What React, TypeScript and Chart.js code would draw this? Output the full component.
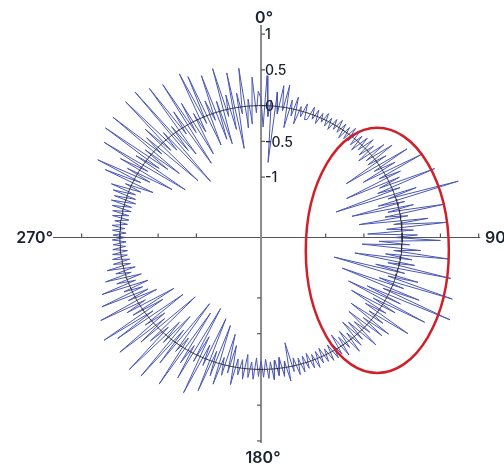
import { useEffect, useRef } from "react";
import { Chart, registerables } from "chart.js";

Chart.register(...registerables);

// ---- data ----
const angleStepDeg = 1; // one sample per degree, clockwise from 0° at top
const radialValues: number[] = [
  0.1, -0.3, 0.42, -0.15, 0.08, -0.79, 0.2, -0.1, 0.3, -0.05,
  0.32, -0.28, 0.12, -0.1, 0.18, -0.2, 0.06, -0.08, 0.12, -0.1,
  -0.09, 0.11, -0.06, 0.09, -0.1, 0.07, -0.05, 0.1, -0.08, 0.06,
  -0.1, 0.08, -0.06, 0.11, -0.07, 0.09, -0.12, 0.08, -0.09, 0.12,
  -0.08, 0.13, -0.1, 0.09, -0.14, 0.12, -0.08, 0.16, -0.12, 0.1,
  -0.18, 0.22, -0.1, 0.3, -0.12, 0.15, -0.5, 0.43, -0.1, 0.2,
  -0.3, 0.55, -0.1, 0.2, -0.6, 0.15, -0.15, 0.62, -0.2, 0.1,
  -0.8, 0.3, -0.1, 0.85, -0.25, 0.1, -0.62, 0.2, -0.15, 0.6,
  -0.2, 0.1, -0.55, 0.35, -0.1, 0.58, -0.2, 0.15, -0.45, 0.2,
  -0.1, 0.5, -0.3, 0.1, -0.52, 0.25, -0.1, 0.62, -0.2, 0.15,
  -0.6, 0.2, -0.15, 0.7, -0.3, 0.1, -0.85, 0.3, -0.1, 0.8,
  -0.2, 0.15, -0.7, 0.4, -0.1, 0.88, -0.3, 0.2, -0.55, 0.6,
  -0.15, 0.2, -0.45, 0.1, -0.2, 0.5, -0.1, 0.15, -0.35, 0.3,
  -0.1, 0.25, -0.3, 0.1, -0.15, 0.28, -0.2, 0.1, -0.25, 0.15,
  -0.1, 0.2, -0.18, 0.08, -0.12, 0.16, -0.2, 0.1, -0.08, 0.12,
  -0.11, 0.12, -0.08, 0.1, -0.12, 0.09, -0.1, 0.13, -0.08, 0.11,
  -0.12, 0.09, -0.1, 0.12, -0.09, 0.14, -0.11, 0.08, -0.34, 0.2,
  -0.09, 0.12, -0.15, 0.1, -0.12, 0.15, -0.1, 0.13, -0.14, 0.11,
  -0.12, 0.1, -0.16, 0.14, -0.1, 0.12, -0.2, 0.15, -0.12, 0.1,
  -0.12, 0.25, -0.3, 0.1, -0.45, 0.15, -0.1, 0.3, -0.55, 0.2,
  -0.15, 0.45, -0.62, 0.1, -0.2, 0.55, -0.3, 0.1, -0.72, 0.4,
  -0.1, 0.2, -0.6, 0.6, -0.15, 0.1, -0.7, 0.35, -0.2, 0.65,
  -0.4, 0.1, -0.25, 0.68, -0.1, 0.2, -0.65, 0.3, -0.15, 0.6,
  -0.2, 0.1, -0.55, 0.5, -0.1, 0.66, -0.3, 0.15, -0.5, 0.2,
  -0.1, 0.55, -0.3, 0.1, -0.2, 0.45, -0.15, 0.1, -0.25, 0.38,
  -0.1, 0.15, -0.2, 0.28, -0.08, 0.12, -0.15, 0.22, -0.1, 0.12,
  -0.1, 0.12, -0.08, 0.11, -0.09, 0.1, -0.07, 0.09, -0.08, 0.1,
  -0.07, 0.09, -0.08, 0.1, -0.06, 0.11, -0.09, 0.08, -0.1, 0.12,
  -0.09, 0.13, -0.11, 0.15, -0.1, 0.18, -0.14, 0.16, -0.12, 0.2,
  -0.1, 0.25, -0.15, 0.08, -0.3, 0.4, -0.1, 0.55, -0.2, 0.15,
  -0.5, 0.3, -0.1, 0.6, -0.65, 0.15, -0.2, 0.7, -0.3, 0.1,
  -0.45, 0.72, -0.1, 0.2, -0.7, 0.3, -0.15, 0.75, -0.2, 0.1,
  -0.82, 0.77, -0.3, 0.1, -0.4, 0.7, -0.1, 0.25, -0.62, 0.65,
  -0.15, 0.3, -0.52, 0.1, -0.2, 0.68, -0.1, 0.6, -0.45, 0.2,
  -0.1, 0.55, -0.4, 0.15, -0.48, 0.6, -0.1, 0.2, -0.3, 0.5,
  -0.58, 0.2, -0.1, 0.54, -0.3, 0.1, -0.25, 0.4, -0.1, 0.2,
];
const baselineValue = 0;
const radialOrigin = -1.845; // radial value at the pole
const radialTicks = [-1, -0.5, 0, 0.5, 1];
const radialTickLabels = ["-1", "-0.5", "0", "0.5", "1"];
const angleLabels = ["0°", "90°", "180°", "270°"];

// ellipse highlight (in radial-distance units)
const highlight = { cx: 1.52, cy: -0.18, rx: 0.935, ry: 1.715 };

const textColor = "#1b2230";

function toXY(deg: number, r: number) {
  const d = r - radialOrigin;
  const a = (deg * Math.PI) / 180;
  return { x: d * Math.sin(a), y: d * Math.cos(a) };
}

export default function App() {
  const ref = useRef<HTMLCanvasElement>(null);

  useEffect(() => {
    if (!ref.current) return;
    const signal = radialValues.map((r, i) => toXY(i * angleStepDeg, r));
    signal.push(signal[0]);
    const circle = radialValues.map((_, i) => toXY(i * angleStepDeg, baselineValue));
    circle.push(circle[0]);

    const axesPlugin = {
      id: "polarAxes",
      beforeDatasetsDraw(chart: any) {
        const { ctx } = chart;
        const xs = chart.scales.x;
        const ys = chart.scales.y;
        const cx = xs.getPixelForValue(0);
        const cy = ys.getPixelForValue(0);
        ctx.save();
        // horizontal axis
        ctx.strokeStyle = "#555";
        ctx.lineWidth = 1.2;
        ctx.beginPath();
        ctx.moveTo(xs.getPixelForValue(-2.72), cy);
        ctx.lineTo(xs.getPixelForValue(2.865), cy);
        ctx.stroke();
        for (const t of radialTicks) {
          const d = t - radialOrigin;
          for (const px of [xs.getPixelForValue(d), xs.getPixelForValue(-d)]) {
            ctx.beginPath();
            ctx.moveTo(px, cy);
            ctx.lineTo(px, cy - 4);
            ctx.stroke();
          }
        }
        // vertical axis
        ctx.strokeStyle = "#8c8c8c";
        ctx.lineWidth = 2;
        ctx.beginPath();
        ctx.moveTo(cx, ys.getPixelForValue(2.972));
        ctx.lineTo(cx, ys.getPixelForValue(-2.874));
        ctx.stroke();
        ctx.strokeStyle = "#555";
        ctx.lineWidth = 1.2;
        for (const t of radialTicks) {
          const d = t - radialOrigin;
          const up = ys.getPixelForValue(d);
          ctx.beginPath();
          ctx.moveTo(cx, up);
          ctx.lineTo(cx + 4, up);
          ctx.stroke();
          const dn = ys.getPixelForValue(-d);
          ctx.beginPath();
          ctx.moveTo(cx, dn);
          ctx.lineTo(cx - 4, dn);
          ctx.stroke();
        }
        ctx.restore();
      },
      afterDatasetsDraw(chart: any) {
        const { ctx } = chart;
        const xs = chart.scales.x;
        const ys = chart.scales.y;
        const cx = xs.getPixelForValue(0);
        const cy = ys.getPixelForValue(0);
        ctx.save();
        // tick labels
        ctx.fillStyle = textColor;
        ctx.font = "500 14px Inter, 'Noto Sans', sans-serif";
        ctx.textAlign = "left";
        ctx.textBaseline = "middle";
        radialTicks.forEach((t, i) => {
          const y = ys.getPixelForValue(t - radialOrigin);
          ctx.fillText(radialTickLabels[i], cx + 4, y + 1);
        });
        // angle labels
        ctx.font = "600 16px Inter, 'Noto Sans', sans-serif";
        ctx.textAlign = "center";
        ctx.fillText(angleLabels[0], cx + 3, 18);
        ctx.fillText(angleLabels[2], cx + 2, 458);
        ctx.textAlign = "left";
        ctx.fillText(angleLabels[1], 485, cy + 1);
        ctx.textAlign = "right";
        ctx.fillText(angleLabels[3], 53, cy + 1);
        // highlight ellipse
        const ex = xs.getPixelForValue(highlight.cx);
        const ey = ys.getPixelForValue(highlight.cy);
        const erx = xs.getPixelForValue(highlight.cx + highlight.rx) - ex;
        const ery = ey - ys.getPixelForValue(highlight.cy + highlight.ry);
        ctx.strokeStyle = "#d0202a";
        ctx.lineWidth = 2.5;
        ctx.beginPath();
        ctx.ellipse(ex, ey, erx, ery, 0, 0, Math.PI * 2);
        ctx.stroke();
        ctx.restore();
      },
    };

    const chart = new Chart(ref.current, {
      type: "scatter",
      data: {
        datasets: [
          {
            data: circle,
            showLine: true,
            borderColor: "#2e2e2e",
            borderWidth: 1,
            pointRadius: 0,
            tension: 0,
          },
          {
            data: signal,
            showLine: true,
            borderColor: "#4a57b4",
            borderWidth: 1,
            pointRadius: 0,
            tension: 0,
          },
        ],
      },
      options: {
        responsive: false,
        animation: false,
        layout: { padding: 0 },
        plugins: { legend: { display: false }, tooltip: { enabled: false } },
        scales: {
          x: { type: "linear", display: false, min: -3.412, max: 3.176 },
          y: { type: "linear", display: false, min: -3.196, max: 3.322 },
        },
      },
      plugins: [axesPlugin],
    });
    return () => chart.destroy();
  }, []);

  return (
    <div style={{ position: "fixed", left: 0, top: 0, width: 504, height: 466, background: "#fff" }}>
      <canvas ref={ref} width={504} height={466} style={{ display: "block" }} />
    </div>
  );
}
